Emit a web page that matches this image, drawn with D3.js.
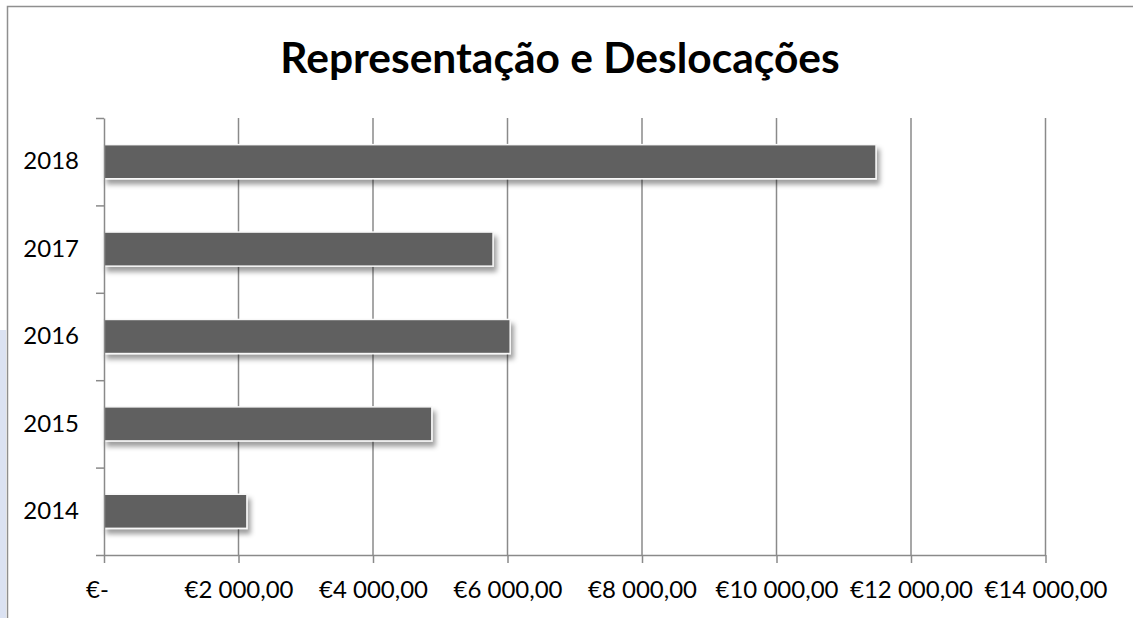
<!DOCTYPE html>
<html lang="pt">
<head>
<meta charset="UTF-8">
<title>Representação e Deslocações</title>
<script src="https://d3js.org/d3.v7.min.js"></script>
<style>
  body { margin: 0; background: #fff; }
  svg text { font-family: Lato, "Open Sans", sans-serif; fill: #000; }
</style>
</head>
<body>
<svg id="canvas"></svg>
<script>
// data
let years = ['2014', '2015', '2016', '2017', '2018']
let amounts = [2125, 4875, 6040, 5785, 11480]
let xTicks = [0, 2000, 4000, 6000, 8000, 10000, 12000, 14000]
let title = 'Representação e Deslocações'

let width = 1133
let height = 618

let plotLeft = 104
let plotRight = 1045.5
let plotTop = 118
let plotBottom = 555

let svg = d3.select('#canvas')
  .attr('width', width)
  .attr('height', height)

// drop shadow for bars
let defs = svg.append('defs')
let f = defs.append('filter').attr('id', 'shadow')
  .attr('x', '-5%').attr('y', '-40%').attr('width', '115%').attr('height', '200%')
f.append('feDropShadow')
  .attr('dx', 3).attr('dy', 5)
  .attr('stdDeviation', 2.8)
  .attr('flood-color', '#000')
  .attr('flood-opacity', 0.38)

// side strip + frame
svg.append('rect')
  .attr('x', 0).attr('y', 330).attr('width', 6).attr('height', height - 330)
  .attr('fill', '#dbe2f2')
svg.append('rect')
  .attr('x', 7.5).attr('y', 6.5).attr('width', 1200).attr('height', 700)
  .attr('fill', '#fff').attr('stroke', '#8f8f8f').attr('stroke-width', 1.5)

svg.append('text')
  .attr('x', 560).attr('y', 73)
  .attr('text-anchor', 'middle')
  .style('font-size', '42.5px')
  .style('font-weight', 'bold')
  .text(title)

let xScale = d3.scaleLinear()
  .domain([0, 14000])
  .range([plotLeft, plotRight])

let yScale = d3.scaleBand()
  .domain(years.slice().reverse())
  .range([plotTop, plotBottom])
  .paddingInner(0.61)
  .paddingOuter(0.305)

// positions of the category separators
let yEdges = d3.scaleLinear()
  .domain([0, years.length])
  .range([plotBottom, plotTop])

// gridlines
svg.append('g')
  .selectAll('line')
  .data(xTicks.slice(1))
  .enter()
  .append('line')
  .attr('x1', d => xScale(d)).attr('x2', d => xScale(d))
  .attr('y1', plotTop).attr('y2', plotBottom)
  .attr('stroke', '#8a8a8a')
  .attr('stroke-width', 1.5)

// bars
svg.append('g')
  .selectAll('rect')
  .data(years)
  .enter()
  .append('rect')
  .attr('x', xScale(0))
  .attr('y', d => yScale(d))
  .attr('width', (d, i) => xScale(amounts[i]) - xScale(0))
  .attr('height', yScale.bandwidth())
  .attr('fill', '#606060')
  .attr('stroke', '#f8f8f8')
  .attr('stroke-width', 1.5)
  .attr('filter', 'url(#shadow)')

let fmt = d => {
  if (d === 0) return '€-'
  let s = d3.format(',.2f')(d)
  return '€' + s.replace(/,/g, ' ').replace('.', ',')
}

let xAxis = svg.append('g')
  .attr('transform', 'translate(0,' + plotBottom + ')')
  .call(d3.axisBottom(xScale).tickValues(xTicks).tickFormat(fmt).tickSize(8).tickSizeOuter(0).tickPadding(18))
xAxis.selectAll('text').style('font-size', '24px')
xAxis.selectAll('text').filter(d => d === 0).attr('dx', -7)

// y axis: separator ticks
svg.append('g')
  .attr('transform', 'translate(' + plotLeft + ',0)')
  .call(d3.axisLeft(yEdges).ticks(years.length).tickFormat('').tickSize(8).tickSizeOuter(0))

// y axis: category labels
let yLabels = svg.append('g')
  .attr('transform', 'translate(' + plotLeft + ',0)')
  .call(d3.axisLeft(yScale).tickSize(0).tickPadding(25))
yLabels.select('.domain').remove()
yLabels.selectAll('text').style('font-size', '24px')

svg.selectAll('.domain, .tick line')
  .attr('stroke', '#8a8a8a')
  .attr('stroke-width', 1.5)
</script>
</body>
</html>
